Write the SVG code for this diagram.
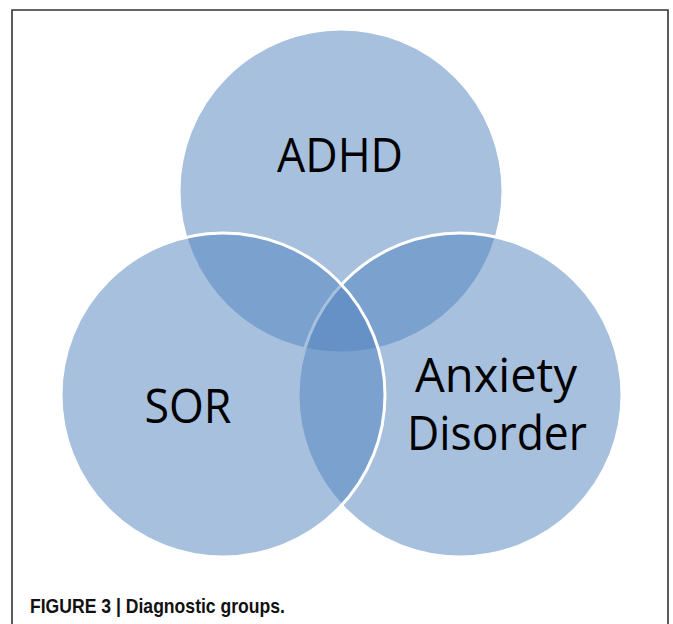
<svg xmlns="http://www.w3.org/2000/svg" width="673" height="624" viewBox="0 0 673 624">
<style>
.c{fill:#4F81BD;fill-opacity:0.5;stroke:#FFFFFF;stroke-width:3}
.t{font-family:"Open Sans","Noto Sans","Liberation Sans",sans-serif;font-size:47px;fill:#000;text-anchor:middle}
.cap{font-family:"Liberation Sans",Arial,sans-serif;font-weight:bold;font-size:20.5px;fill:#111}
</style>
<rect width="673" height="624" fill="#FFFFFF"/>
<path d="M12,624 V10 H668 V624" fill="none" stroke="#333" stroke-width="1.6"/>
<g id="adhd">
<circle class="c" cx="341" cy="191" r="162"/>
<text class="t" x="340" y="172" textLength="126" lengthAdjust="spacingAndGlyphs">ADHD</text>
</g>
<g id="anxiety">
<circle class="c" cx="460" cy="395" r="162"/>
<text class="t" x="496" y="392" textLength="162" lengthAdjust="spacingAndGlyphs">Anxiety</text>
<text class="t" x="497" y="450" textLength="180" lengthAdjust="spacingAndGlyphs">Disorder</text>
</g>
<g id="sor">
<circle class="c" cx="223" cy="395" r="162"/>
<text class="t" x="188" y="423" textLength="87" lengthAdjust="spacingAndGlyphs">SOR</text>
</g>
<text class="cap" x="30" y="613" textLength="255" lengthAdjust="spacingAndGlyphs">FIGURE 3 | Diagnostic groups.</text>
</svg>
